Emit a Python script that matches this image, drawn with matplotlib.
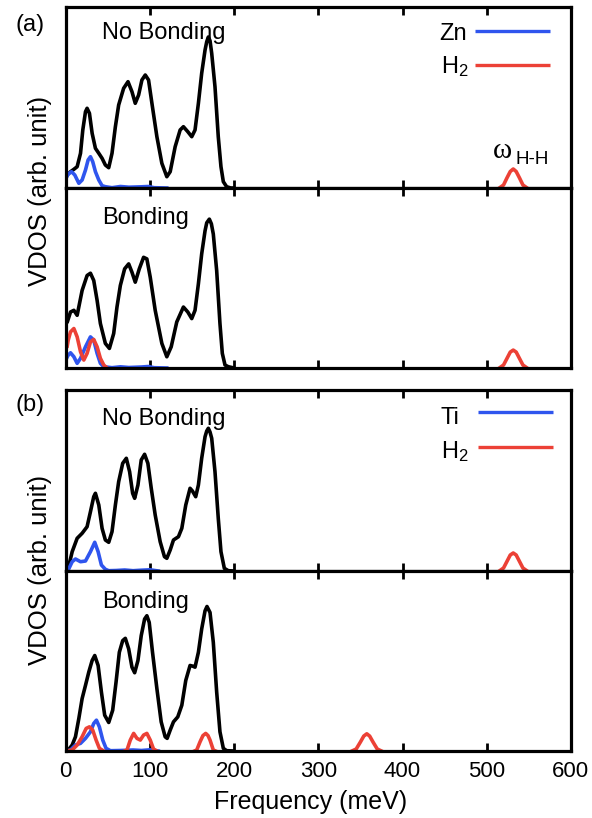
import matplotlib
matplotlib.use("Agg")
import matplotlib.pyplot as plt

plt.rcParams['font.family'] = ['Liberation Sans', 'DejaVu Sans']
plt.rcParams['mathtext.fontset'] = 'custom'
plt.rcParams['mathtext.rm'] = 'Liberation Sans'
plt.rcParams['mathtext.it'] = 'Liberation Sans:italic'
plt.rcParams['mathtext.bf'] = 'Liberation Sans:bold'

BLACK = 'black'
BLUE = '#2f55ee'
RED = '#ec4136'
GAP = float('nan')  # breaks a line between separate peaks

# ---------------- Data (frequency in meV, VDOS in arb. unit) ----------------
# (a) No Bonding
a_nb_total_f = [1.8, 3.0, 5.7, 9.7, 13.6, 17.6, 20.3, 23.5, 25.4, 28.2, 31.4, 35.3, 39.3, 43.2, 47.1,
                51.1, 55.0, 59.0, 62.9, 68.8, 74.0, 78.7, 82.6, 86.6, 90.5, 94.5, 98.4, 102.4, 108.3,
                114.2, 120.1, 124.1, 130.0, 135.9, 139.8, 145.0, 149.7, 153.6, 157.6, 161.5, 165.5,
                167.5, 169.4, 171.4, 173.4, 177.3, 181.2, 184.4, 187.2, 191.1, 196, 200]
a_nb_total_v = [13, 14, 16.3, 18.7, 21.3, 34.7, 58, 76.3, 79.7, 74.7, 54.7, 39.7, 34.7, 29.7, 23,
                20.3, 34.7, 61.3, 83, 99.7, 106.3, 96.3, 84.7, 93, 108, 113, 108, 84.7, 51.3,
                24.7, 11.3, 16.3, 41.3, 58, 61.3, 56.3, 51.3, 58, 84.7, 114.7, 138,
                146.3, 151, 147.3, 134.7, 101.3, 51.3, 21.3, 6.3, 1.3, 0, 0]
a_nb_zn_f = [1.8, 3.0, 6.9, 10.8, 15.6, 19.5, 23.5, 26.6, 29.4, 32.1, 35.3, 39.3, 43.2, 47.1,
             55, 65, 75, 90, 98, 105, 120]
a_nb_zn_v = [12, 14, 16.3, 13, 4.7, 8, 18, 28, 31.3, 26.3, 16.3, 8, 2.3, 1.3,
             0.3, 1.5, 0.8, 1.2, 1.5, 0.3, 0]
a_nb_h2_f = [515, 520, 524, 528, 531.5, 535, 539, 543, 548]
a_nb_h2_v = [0, 3, 10, 16.5, 19, 16.5, 10, 3, 0]

# (a) Bonding
a_b_total_f = [1.8, 5.7, 9.7, 13.6, 19.5, 25.4, 29.4, 33.3, 37.3, 41.2, 47.1, 51.9, 57.0, 60.9,
               64.9, 70.0, 74.8, 78.7, 82.6, 87.4, 92.5, 96.4, 100.4, 106.3, 114.2, 120.1, 125.3,
               131.9, 139.8, 145.0, 149.7, 153.6, 157.6, 161.5, 165.5, 167.5, 170.6, 173.0, 175.3,
               179.3, 183.2, 186.0, 189.2, 193.1, 200]
a_b_total_v = [46, 56.3, 58, 53, 78, 93, 95.3, 88, 68, 44.7, 24.7, 19.7, 34.7, 61.3,
               83, 99.7, 104.7, 96.3, 86.3, 99.7, 111.3, 109.7, 91.3, 58, 24.7, 11.3, 21.3,
               46.3, 61.3, 56.3, 49.7, 58, 84.7, 114.7, 138, 146, 149.7, 145, 134.7,
               98, 44.7, 14.7, 3, 1.3, 0]
a_b_zn_f = [1.8, 3.0, 5.7, 9.7, 13.6, 17.6, 23.5, 29.4, 33.3, 37.3, 41.2, 45.2,
            55, 65, 75, 90, 98, 105, 120]
a_b_zn_v = [11, 13, 15.3, 11.3, 4.7, 9.7, 21.3, 31.3, 28, 14.7, 4.7, 1.3,
            0.3, 1.2, 0.5, 1, 1.5, 0.3, 0]
a_b_h2_f = [1.8, 3.0, 5.7, 9.7, 13.6, 17.6, 21.5, 25.4, 29.4, 33.3, 37.3, 41.2, 45.2, 49.1, GAP,
            515, 520, 524, 528, 531.5, 535, 539, 543, 548]
a_b_h2_v = [22, 28, 36.3, 39.7, 31.3, 16.3, 8, 14.7, 26.3, 28.7, 21.3, 9.7, 3, 0, GAP,
            0, 3, 9.5, 16, 18, 16, 9.5, 3, 0]

# (b) No Bonding
b_nb_total_f = [1, 3.0, 7.7, 13.6, 19.5, 25.4, 29.4, 33.3, 35.3, 39.3, 43.2, 47.1, 51.1, 55.0,
                59.0, 62.9, 67.7, 72.0, 75.9, 79.5, 81.9, 85.8, 89.7, 93.7, 97.6, 101.6, 106.3,
                112.2, 117.3, 120.1, 124.1, 128.0, 133.9, 137.9, 142.6, 147.7, 150.5, 154.4,
                157.6, 161.5, 165.5, 167.5, 169.4, 171.4, 173.4, 177.3, 181.2, 184.4, 188.4,
                193.1, 200]
b_nb_total_v = [0, 2.7, 19.3, 32.7, 37.7, 44.3, 59.3, 74.3, 77.7, 66, 42.7, 31, 28.7, 39.3,
                66, 89.3, 107.7, 112.7, 99.3, 77.7, 72.7, 86, 111, 116.7, 107.7, 82.7, 56,
                29.3, 14.3, 12.7, 21, 31, 34.3, 42.7, 66, 82.7, 80, 74.3,
                86, 112.7, 134.3, 140, 142.7, 139, 132.7, 99.3, 52.7, 19.3, 2.7,
                0.3, 0]
b_nb_ti_f = [1, 3.0, 7.7, 11.6, 17.6, 23.5, 29.4, 34.5, 38.5, 42.4, 47.1, 51.1,
             60, 70, 80, 90, 100, 110]
b_nb_ti_v = [0, 1, 9.3, 12, 9.3, 10, 19.3, 28.7, 19.3, 6, 1.7, 0.3,
             0.5, 1, 0.3, 0.8, 1.2, 0]
b_nb_h2_f = [515, 520, 524, 528, 531.5, 535, 539, 543, 548]
b_nb_h2_v = [0, 3, 9.5, 16, 18, 16, 9.5, 3, 0]

# (b) Bonding
b_b_total_f = [1, 3.0, 7.7, 11.6, 15.6, 19.5, 23.5, 27.4, 31.4, 34.5, 38.5, 42.4, 46.3, 51.1,
               55.8, 59.8, 63.7, 67.7, 70.8, 74.8, 78.7, 81.9, 85.8, 89.7, 93.7, 96.4, 99.2,
               103.1, 108.3, 113.4, 118.1, 120.5, 124.1, 128.0, 133.1, 137.9, 142.6, 147.7,
               150.9, 153.6, 157.6, 161.5, 165.5, 167.8, 171.4, 175.3, 179.3, 183.2, 187.2,
               191.1, 200]
b_b_total_v = [0, 1, 6, 14.3, 32.7, 52.7, 66, 79.3, 91, 96, 86, 59.3, 36, 28.7,
               41, 69.3, 99.3, 111, 113.3, 102.7, 84.3, 78.7, 91, 116, 132.7, 136, 129.3,
               99.3, 62.7, 29.3, 14.3, 12.7, 21, 29.3, 34.3, 46, 71, 86,
               85.3, 84.3, 99.3, 122.7, 141, 145.3, 139.3, 109.3, 59.3, 19.3, 2.7,
               0.3, 0]
b_b_ti_f = [1, 5.7, 11.6, 17.6, 23.5, 29.4, 33.3, 36.5, 40.0, 44.0, 47.9, 53.1,
            65, 80, 90, 100, 110]
b_b_ti_v = [0, 1, 6, 7.7, 12.7, 19.3, 27.7, 31, 24.3, 11, 2.7, 0.3,
            0.5, 1, 0.5, 1.2, 0]
b_b_h2_f = [1, 7.7, 13.6, 19.5, 24.3, 28.2, 32.1, 36.1, 40.0, 45.2, GAP,
            70, 72.8, 76.7, 80.7, 84.6, 88.6, 92.5, 96.4, 100.4, 104.3, 108.3, GAP,
            153, 155.6, 159.6, 163, 166.3, 169, 171.4, 175.3, 178, GAP,
            340, 345, 350, 354, 357.6, 361, 365, 370, 375]
b_b_h2_v = [0, 1, 6, 14.3, 22.7, 24.3, 21, 11, 2.7, 0, GAP,
            0, 1, 11, 17.7, 12.7, 11, 16, 17.7, 11, 2, 0, GAP,
            0, 1, 9.3, 15.5, 17.7, 15.5, 11, 1, 0, GAP,
            0, 2, 9, 15, 17.3, 15, 9, 2, 0]

x_ticks = [0, 100, 200, 300, 400, 500, 600]
panel_titles = ['No Bonding', 'Bonding', 'No Bonding', 'Bonding']
metal_names = ['Zn', 'Ti']

# ---------------- Figure ----------------
W, H = 592, 818
fig = plt.figure(figsize=(W / 100, H / 100), dpi=100)

left = 65.7 / W
width = (570.9 - 65.7) / W
rects_px = [(7, 188), (188, 368), (390, 571), (571, 751)]
axes = []
for top, bot in rects_px:
    ax = fig.add_axes([left, (H - bot) / H, width, (bot - top) / H])
    axes.append(ax)

panels = [
    (a_nb_total_f, a_nb_total_v, a_nb_zn_f, a_nb_zn_v, a_nb_h2_f, a_nb_h2_v),
    (a_b_total_f, a_b_total_v, a_b_zn_f, a_b_zn_v, a_b_h2_f, a_b_h2_v),
    (b_nb_total_f, b_nb_total_v, b_nb_ti_f, b_nb_ti_v, b_nb_h2_f, b_nb_h2_v),
    (b_b_total_f, b_b_total_v, b_b_ti_f, b_b_ti_v, b_b_h2_f, b_b_h2_v),
]
title_base = [149, 144.7, 146, 144]
LW = 2.6

for i, (ax, data) in enumerate(zip(axes, panels)):
    tf, tv, mf, mv, hf, hv = data
    ax.plot(tf, tv, color=BLACK, lw=LW, solid_joinstyle='round', solid_capstyle='round')
    ax.plot(mf, mv, color=BLUE, lw=LW, solid_joinstyle='round')
    ax.plot(hf, hv, color=RED, lw=LW, solid_joinstyle='round')
    ax.set_xlim(0, 600)
    ax.set_ylim(0, 181)
    ax.set_xticks(x_ticks)
    ax.set_yticks([])
    ax.tick_params(axis='x', direction='in', top=True, bottom=True, length=6, width=2,
                   labelsize=16, pad=7)
    for sp in ax.spines.values():
        sp.set_linewidth(2.3)
    if i != 3:
        ax.tick_params(axis='x', labelbottom=False)
    ax.text(42.8, title_base[i], panel_titles[i], fontsize=17, ha='left', va='baseline')

# legends
for ax, name, nb, lh, hb, hh, xr, x0, x1 in [
        (axes[0], metal_names[0], 148, 157, 114.7, 123, 476.3, 486.1, 575.2),
        (axes[2], metal_names[1], 147, 159, 112.7, 124.3, 467.2, 489.7, 578.7)]:
    ax.text(xr, nb, name, fontsize=17, ha='right', va='baseline')
    ax.text(478, hb, 'H$_2$', fontsize=17, ha='right', va='baseline')
    ax.plot([x0, x1], [lh, lh], color=BLUE, lw=2.4, solid_capstyle='butt', clip_on=False)
    ax.plot([x0, x1], [hh, hh], color=RED, lw=2.4, solid_capstyle='butt', clip_on=False)

# omega label
axes[0].text(507.5, 29.7, '\u03c9', fontsize=21, family=['Liberation Serif', 'DejaVu Serif'],
             ha='left', va='baseline')
axes[0].text(533.8, 24, 'H-H', fontsize=13.5, ha='left', va='baseline')

fig.text(30 / W, 1 - 25 / H, '(a)', fontsize=17, ha='center', va='center')
fig.text(30 / W, 1 - 405 / H, '(b)', fontsize=17, ha='center', va='center')
fig.text(40 / W, 1 - 191 / H, 'VDOS (arb. unit)', fontsize=18.5, rotation=90,
         ha='center', va='center')
fig.text(40 / W, 1 - 570 / H, 'VDOS (arb. unit)', fontsize=18.5, rotation=90,
         ha='center', va='center')
fig.text(311 / W, 1 - 802 / H, 'Frequency (meV)', fontsize=18, ha='center', va='center')

fig.savefig('out.png', dpi=100)
